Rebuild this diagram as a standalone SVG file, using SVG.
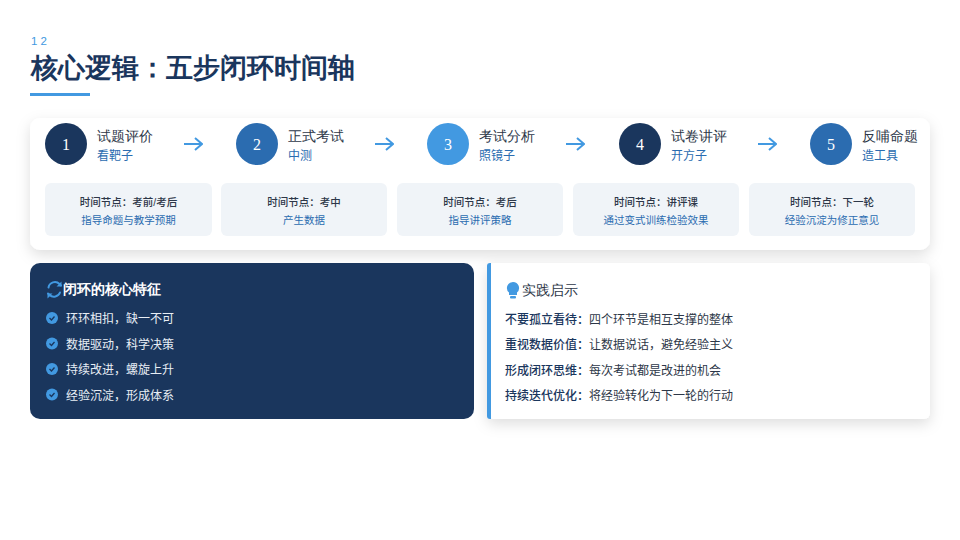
<svg xmlns="http://www.w3.org/2000/svg" width="960" height="540" viewBox="0 0 960 540">
<defs>
<filter id="sh" x="-5%" y="-20%" width="110%" height="160%"><feDropShadow dx="0" dy="5" stdDeviation="7" flood-color="#000" flood-opacity="0.13"/></filter>
<marker id="ah" viewBox="0 0 10 14" refX="9" refY="7" markerWidth="10" markerHeight="14" markerUnits="userSpaceOnUse" orient="auto"><path d="M2 1 L9 7 L2 13" fill="none" stroke="#4299e1" stroke-width="2"/></marker>
</defs>
<style>
text{font-family:"Liberation Sans","Noto Sans CJK SC",sans-serif}
.serif{font-family:"Liberation Serif",serif}
.n{font-size:16px;fill:#fff;text-anchor:middle}
.h{font-size:13.5px;fill:#2d3748}
.s{font-size:12px;fill:#2b6cb0}
.t{font-size:10.5px;fill:#2d3748;text-anchor:middle;font-weight:500}
.d{font-size:10.5px;fill:#2b6cb0;text-anchor:middle}
.box{fill:#f0f4f8}
.li{font-size:12px;fill:#e8eef5}
.pr{font-size:12px;fill:#2d3748}
.prb{font-size:12px;fill:#1a365d;font-weight:500}
.conn{stroke:#4299e1;stroke-width:2;fill:none;marker-end:url(#ah)}
</style>
<rect width="960" height="540" fill="#fff"/>
<g id="header">
<text x="31" y="45" font-size="11.500" letter-spacing="3" fill="#4299e1">12</text>
<text class="serif" x="31" y="77" font-size="27" font-weight="700" fill="#1a365d">核心逻辑：五步闭环时间轴</text>
<rect x="30" y="93" width="60" height="3" fill="#4299e1"/>
</g>
<rect id="timeline-card" x="30" y="118" width="900" height="132" rx="10" fill="#fff" filter="url(#sh)"/>
<g id="connectors">
<line class="conn" x1="184" y1="144" x2="202" y2="144"/>
<line class="conn" x1="375" y1="144" x2="393" y2="144"/>
<line class="conn" x1="566" y1="144" x2="584" y2="144"/>
<line class="conn" x1="758" y1="144" x2="776" y2="144"/>
</g>
<g id="step1"><circle cx="66" cy="144" r="21" fill="#1a365d"/><text class="n serif" x="66" y="150">1</text>
<text class="h serif" x="97" y="141">试题评价</text><text class="s" x="97" y="160">看靶子</text></g>
<g id="step2"><circle cx="257" cy="144" r="21" fill="#2b6cb0"/><text class="n serif" x="257" y="150">2</text>
<text class="h serif" x="288" y="141">正式考试</text><text class="s" x="288" y="160">中测</text></g>
<g id="step3"><circle cx="448" cy="144" r="21" fill="#4299e1"/><text class="n serif" x="448" y="150">3</text>
<text class="h serif" x="479" y="141">考试分析</text><text class="s" x="479" y="160">照镜子</text></g>
<g id="step4"><circle cx="640" cy="144" r="21" fill="#1a365d"/><text class="n serif" x="640" y="150">4</text>
<text class="h serif" x="671" y="141">试卷讲评</text><text class="s" x="671" y="160">开方子</text></g>
<g id="step5"><circle cx="831" cy="144" r="21" fill="#2b6cb0"/><text class="n serif" x="831" y="150">5</text>
<text class="h serif" x="862" y="141">反哺命题</text><text class="s" x="862" y="160">造工具</text></g>
<g id="box1"><rect class="box" x="45" y="183" width="167" height="53" rx="6"/><text class="t" x="128.500" y="206">时间节点：考前/考后</text><text class="d" x="128.500" y="224">指导命题与教学预期</text></g>
<g id="box2"><rect class="box" x="221" y="183" width="166" height="53" rx="6"/><text class="t" x="304" y="206">时间节点：考中</text><text class="d" x="304" y="224">产生数据</text></g>
<g id="box3"><rect class="box" x="397" y="183" width="166" height="53" rx="6"/><text class="t" x="480" y="206">时间节点：考后</text><text class="d" x="480" y="224">指导讲评策略</text></g>
<g id="box4"><rect class="box" x="573" y="183" width="166" height="53" rx="6"/><text class="t" x="656" y="206">时间节点：讲评课</text><text class="d" x="656" y="224">通过变式训练检验效果</text></g>
<g id="box5"><rect class="box" x="749" y="183" width="166" height="53" rx="6"/><text class="t" x="832" y="206">时间节点：下一轮</text><text class="d" x="832" y="224">经验沉淀为修正意见</text></g>
<g id="features">
<rect x="30" y="263" width="444" height="156" rx="10" fill="#1a365d"/>
<g fill="none" stroke="#4299e1" stroke-width="2" stroke-linecap="round">
<path d="M48.500 287.500a6.500 6.500 0 0 1 11-3.500l1.500 1.500"/><path d="M60 292.500a6.500 6.500 0 0 1-10.500 2.500l-1.500-1.500"/></g>
<path d="M61.500 281.500v5h-5zM47.500 298.500v-5h5z" fill="#4299e1"/>
<text class="serif" x="63" y="294" font-size="13.500" font-weight="700" fill="#fff">闭环的核心特征</text>
<g fill="#4299e1"><circle cx="52" cy="318" r="6"/><circle cx="52" cy="343.500" r="6"/><circle cx="52" cy="369" r="6"/><circle cx="52" cy="394.500" r="6"/></g>
<g fill="none" stroke="#1a365d" stroke-width="1.300"><path d="M49.500 318l2 2 3-3.500"/><path d="M49.500 343.500l2 2 3-3.500"/><path d="M49.500 369l2 2 3-3.500"/><path d="M49.500 394.500l2 2 3-3.500"/></g>
<text class="li" x="66" y="323">环环相扣，缺一不可</text>
<text class="li" x="66" y="349">数据驱动，科学决策</text>
<text class="li" x="66" y="374">持续改进，螺旋上升</text>
<text class="li" x="66" y="400">经验沉淀，形成体系</text>
</g>
<g id="practice">
<rect x="487" y="263" width="443" height="156" rx="6" fill="#fff" filter="url(#sh)"/>
<path d="M491 263h-1a3 3 0 0 0-3 3v150a3 3 0 0 0 3 3h1z" fill="#4299e1"/>
<path d="M513 282a6 6 0 0 1 4 10.500v2.500h-8v-2.500a6 6 0 0 1 4-10.500z" fill="#4299e1"/><rect x="510" y="296" width="6" height="2.500" rx="1" fill="#4299e1"/>
<text class="serif" x="521.500" y="295" font-size="13.500" fill="#2d3748">实践启示</text>
<text class="pr" x="505" y="324"><tspan class="prb">不要孤立看待：</tspan>四个环节是相互支撑的整体</text>
<text class="pr" x="505" y="349"><tspan class="prb">重视数据价值：</tspan>让数据说话，避免经验主义</text>
<text class="pr" x="505" y="375"><tspan class="prb">形成闭环思维：</tspan>每次考试都是改进的机会</text>
<text class="pr" x="505" y="400"><tspan class="prb">持续迭代优化：</tspan>将经验转化为下一轮的行动</text>
</g>
</svg>
